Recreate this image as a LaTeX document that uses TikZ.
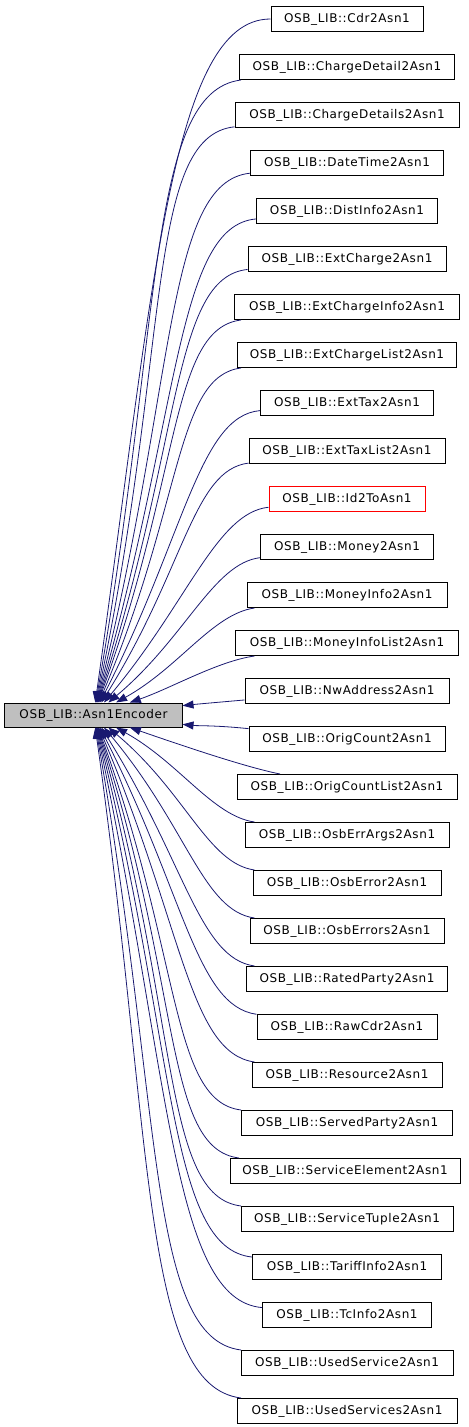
\documentclass[tikz,border=0pt]{standalone}
\usepackage{fontspec}
\usetikzlibrary{arrows.meta}
\newfontfamily\dxfont[LetterSpace=5]{DejaVu Sans}
\definecolor{edgeblue}{RGB}{25,25,112}
\definecolor{basegray}{RGB}{191,191,191}
\begin{document}
\begin{tikzpicture}[x=1bp, y=1bp,
    cls/.style={draw, line width=1bp, minimum height=25bp, inner sep=0pt,
      font={\dxfont\fontsize{12bp}{14bp}\selectfont}},
    basebox/.style={cls, fill=basegray, minimum width=177bp, minimum height=24bp},
    edge/.style={draw=edgeblue, line width=0.8bp,
      {Triangle[length=11bp, width=8bp, fill=edgeblue]}-}]
            \useasboundingbox (0,0) rectangle (469,-1427);
            % base class
            \node[basebox] (enc) at (93.5,-715) {OSB\_LIB::Asn1Encoder};
            % derived classes
            \node[cls, minimum width=152bp] (c0) at (347,-19) {OSB\_LIB::Cdr2Asn1};
            \node[cls, minimum width=215bp] (c1) at (347,-67) {OSB\_LIB::ChargeDetail2Asn1};
            \node[cls, minimum width=224bp] (c2) at (347,-115) {OSB\_LIB::ChargeDetails2Asn1};
            \node[cls, minimum width=193bp] (c3) at (347,-163) {OSB\_LIB::DateTime2Asn1};
            \node[cls, minimum width=181bp] (c4) at (347,-211) {OSB\_LIB::DistInfo2Asn1};
            \node[cls, minimum width=198bp] (c5) at (347,-259) {OSB\_LIB::ExtCharge2Asn1};
            \node[cls, minimum width=225bp] (c6) at (347,-307) {OSB\_LIB::ExtChargeInfo2Asn1};
            \node[cls, minimum width=219bp] (c7) at (347,-355) {OSB\_LIB::ExtChargeList2Asn1};
            \node[cls, minimum width=173bp] (c8) at (347,-403) {OSB\_LIB::ExtTax2Asn1};
            \node[cls, minimum width=196bp] (c9) at (347,-451) {OSB\_LIB::ExtTaxList2Asn1};
            \node[cls, minimum width=156bp, draw=red] (c10) at (347,-499) {OSB\_LIB::Id2ToAsn1};
            \node[cls, minimum width=173bp] (c11) at (347,-547) {OSB\_LIB::Money2Asn1};
            \node[cls, minimum width=200bp] (c12) at (347,-595) {OSB\_LIB::MoneyInfo2Asn1};
            \node[cls, minimum width=223bp] (c13) at (347,-643) {OSB\_LIB::MoneyInfoList2Asn1};
            \node[cls, minimum width=204bp] (c14) at (347,-691) {OSB\_LIB::NwAddress2Asn1};
            \node[cls, minimum width=196bp] (c15) at (347,-739) {OSB\_LIB::OrigCount2Asn1};
            \node[cls, minimum width=220bp] (c16) at (347,-787) {OSB\_LIB::OrigCountList2Asn1};
            \node[cls, minimum width=204bp] (c17) at (347,-835) {OSB\_LIB::OsbErrArgs2Asn1};
            \node[cls, minimum width=188bp] (c18) at (347,-883) {OSB\_LIB::OsbError2Asn1};
            \node[cls, minimum width=194bp] (c19) at (347,-931) {OSB\_LIB::OsbErrors2Asn1};
            \node[cls, minimum width=201bp] (c20) at (347,-979) {OSB\_LIB::RatedParty2Asn1};
            \node[cls, minimum width=180bp] (c21) at (347,-1027) {OSB\_LIB::RawCdr2Asn1};
            \node[cls, minimum width=190bp] (c22) at (347,-1075) {OSB\_LIB::Resource2Asn1};
            \node[cls, minimum width=211bp] (c23) at (347,-1123) {OSB\_LIB::ServedParty2Asn1};
            \node[cls, minimum width=230bp] (c24) at (345,-1171) {OSB\_LIB::ServiceElement2Asn1};
            \node[cls, minimum width=212bp] (c25) at (347,-1219) {OSB\_LIB::ServiceTuple2Asn1};
            \node[cls, minimum width=189bp] (c26) at (347,-1267) {OSB\_LIB::TariffInfo2Asn1};
            \node[cls, minimum width=169bp] (c27) at (347,-1315) {OSB\_LIB::TcInfo2Asn1};
            \node[cls, minimum width=212bp] (c28) at (347,-1363) {OSB\_LIB::UsedService2Asn1};
            \node[cls, minimum width=220bp] (c29) at (347,-1411) {OSB\_LIB::UsedServices2Asn1};
            % inheritance edges, upper half
            \draw[edge] (enc.82) .. controls +(82:418) and +(180:100) .. (c0.180);
            \draw[edge] (enc.80) .. controls +(80:389) and +(187:95) .. (c1.187);
            \draw[edge] (enc.78) .. controls +(78:360) and +(186:90) .. (c2.186);
            \draw[edge] (enc.76) .. controls +(76:331) and +(186:85) .. (c3.186);
            \draw[edge] (enc.74) .. controls +(74:302) and +(185:80) .. (c4.185);
            \draw[edge] (enc.72) .. controls +(72:274) and +(186:76) .. (c5.186);
            \draw[edge] (enc.70) .. controls +(70:245) and +(187:71) .. (c6.187);
            \draw[edge] (enc.67) .. controls +(67:216) and +(187:66) .. (c7.187);
            \draw[edge] (enc.63) .. controls +(63:187) and +(185:61) .. (c8.185);
            \draw[edge] (enc.58) .. controls +(58:158) and +(187:56) .. (c9.187);
            \draw[edge] (enc.50) .. controls +(50:130) and +(186:52) .. (c10.186);
            \draw[edge] (enc.40) .. controls +(40:101) and +(187:47) .. (c11.187);
            \draw[edge] (enc.29) .. controls +(29:72) and +(188:42) .. (c12.188);
            \draw[edge] (enc.19) .. controls +(19:43) and +(188:37) .. (c13.188);
            \draw[edge] (enc.6) .. controls +(6:14) and +(185:32) .. (c14.185);
            % inheritance edges, lower half
            \draw[edge] (enc.-6) .. controls +(-6:14) and +(174:32) .. (c15.174);
            \draw[edge] (enc.-19) .. controls +(-19:43) and +(169:37) .. (c16.169);
            \draw[edge] (enc.-29) .. controls +(-29:72) and +(172:42) .. (c17.172);
            \draw[edge] (enc.-40) .. controls +(-40:101) and +(172:47) .. (c18.172);
            \draw[edge] (enc.-50) .. controls +(-50:130) and +(172:52) .. (c19.172);
            \draw[edge] (enc.-58) .. controls +(-58:158) and +(172:56) .. (c20.172);
            \draw[edge] (enc.-63) .. controls +(-63:187) and +(172:61) .. (c21.172);
            \draw[edge] (enc.-67) .. controls +(-67:216) and +(172:66) .. (c22.172);
            \draw[edge] (enc.-70) .. controls +(-70:245) and +(173:71) .. (c23.173);
            \draw[edge] (enc.-72) .. controls +(-72:274) and +(173:76) .. (c24.173);
            \draw[edge] (enc.-74) .. controls +(-74:302) and +(173:80) .. (c25.173);
            \draw[edge] (enc.-76) .. controls +(-76:331) and +(174:85) .. (c26.174);
            \draw[edge] (enc.-78) .. controls +(-78:360) and +(175:90) .. (c27.175);
            \draw[edge] (enc.-80) .. controls +(-80:389) and +(173:95) .. (c28.173);
            \draw[edge] (enc.-82) .. controls +(-82:418) and +(173:100) .. (c29.173);
\end{tikzpicture}
\end{document}
